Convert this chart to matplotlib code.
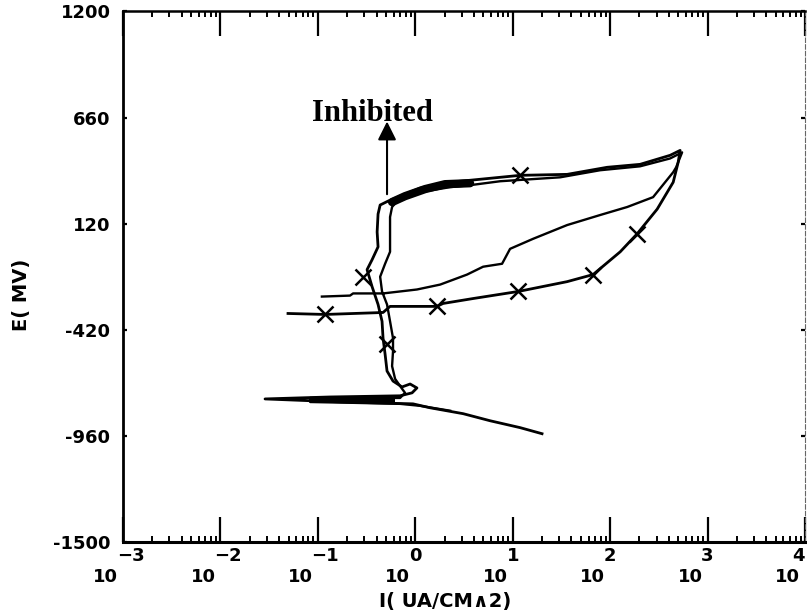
import matplotlib
matplotlib.use("Agg")
import matplotlib.pyplot as plt
from matplotlib.ticker import LogLocator, NullFormatter, FixedLocator

# ---------------- data (I in uA/cm^2, E in mV) ----------------
run1_I = [20.0, 11.9, 5.86, 3.10, 1.42, 0.948, 0.169, 0.0287, 0.133, 0.698,
          0.927, 1.04, 0.885, 0.731, 0.591, 0.513, 0.490, 0.467, 0.456, 0.415,
          0.360, 0.320, 0.360, 0.415, 0.406, 0.415, 0.436, 0.526, 0.698, 1.12,
          2.28, 5.86, 11.9, 36.2, 93.2, 203, 413, 523,
          499, 444, 304, 189, 127, 66.8, 36.2, 11.4, 3.92, 1.93, 1.67, 0.551,
          0.467, 0.119, 0.0494]
run1_E = [-949, -918, -883, -847, -817, -797, -787, -772, -762, -756,
          -741, -716, -696, -711, -681, -630, -544, -463, -377, -291,
          -200, -114, -64, 2, 78, 169, 215, 235, 260, 301,
          331, 351, 366, 371, 407, 422, 468, 493,
          432, 331, 194, 68, -23, -139, -175, -225, -261, -286, -301, -301,
          -332, -342, -337]

run2_I = [2.28, 1.12, 0.698, 0.0832, 0.0832, 0.698, 0.785, 0.698, 0.621, 0.578,
          0.591, 0.591, 0.551, 0.513, 0.456, 0.436, 0.490, 0.551, 0.551, 0.551,
          0.578, 0.665, 1.12, 2.28, 3.65, 7.43, 30.7, 78.9, 203, 413, 548,
          476, 444, 276, 150, 78.9, 36.2, 16.2, 9.40, 7.78, 4.97, 3.40, 1.80,
          1.04, 0.467, 0.230, 0.214, 0.110]
run2_E = [-832, -807, -797, -787, -767, -767, -741, -706, -670, -605,
          -529, -463, -377, -291, -225, -150, -84, -23, 53, 154,
          205, 240, 280, 306, 316, 336, 356, 392, 412, 452, 483,
          407, 382, 255, 205, 164, 113, 43, -8, -84, -99, -139, -190,
          -215, -235, -235, -246, -251]

band1_I = [0.578, 0.785, 1.26, 2.02, 3.65]
band1_E = [230, 260, 296, 321, 326]
band2_I = [0.0832, 0.621]
band2_E = [-777, -777]

marker_I = [0.119, 1.67, 11.4, 66.8, 189, 11.9, 0.291, 0.513]
marker_E = [-342, -301, -225, -139, 68, 366, -150, -493]

y_ticks = [1200, 660, 120, -420, -960, -1500]
x_decades = [-3, -2, -1, 0, 1, 2, 3, 4]

# ---------------- figure ----------------
fig = plt.figure(figsize=(8.07, 6.14), dpi=100)
ax = fig.add_axes([0.1524, 0.1173, 0.8451, 0.8640])

ax.plot(run1_I, run1_E, color="black", lw=2.0, solid_joinstyle="round")
ax.plot(run2_I, run2_E, color="black", lw=1.7, solid_joinstyle="round")
ax.plot(band1_I, band1_E, color="black", lw=6, solid_capstyle="round")
ax.plot(band2_I, band2_E, color="black", lw=4.5, solid_capstyle="butt")
ax.plot(marker_I, marker_E, ls="none", marker="x", ms=11, mew=1.8, color="black")

ax.set_xscale("log")
ax.set_xlim(10.0 ** x_decades[0], 10.0 ** x_decades[-1])
ax.set_ylim(-1500, 1200)

ax.yaxis.set_major_locator(FixedLocator(y_ticks))
ax.set_yticklabels([str(v) for v in y_ticks])
ax.xaxis.set_major_locator(LogLocator(base=10, numticks=20))
ax.xaxis.set_minor_locator(LogLocator(base=10, subs=range(2, 10), numticks=100))
ax.xaxis.set_major_formatter(NullFormatter())
ax.xaxis.set_minor_formatter(NullFormatter())

ax.tick_params(axis="x", which="major", direction="in", length=18, width=1.6,
               top=True, bottom=True)
ax.tick_params(axis="x", which="minor", direction="in", length=4.5, width=1.4,
               top=True, bottom=True)
ax.tick_params(axis="y", which="major", direction="in", length=3, width=1.6,
               left=True, right=True, pad=9)
for lab in ax.get_yticklabels():
    lab.set_fontfamily("DejaVu Sans")
    lab.set_fontweight("bold")
    lab.set_fontsize(13)

ax.spines["left"].set_linewidth(2.0)
ax.spines["bottom"].set_linewidth(2.2)
ax.spines["top"].set_linewidth(1.8)
ax.spines["right"].set_linewidth(0.8)
ax.spines["right"].set_color("#666666")
ax.spines["right"].set_linestyle((0, (4, 2)))

# x tick labels: "10" with exponent
for d in x_decades:
    ax.annotate("10", xy=(10.0 ** d, 0), xycoords=("data", "axes fraction"),
                xytext=(-3.5, -25), textcoords="offset points",
                ha="right", va="center", fontsize=13, fontweight="bold",
                family="DejaVu Sans", annotation_clip=False)
    exp = ("\u2212" + str(-d)) if d < 0 else str(d)
    dx = -4.5 if d != x_decades[-1] else -9.5
    ax.annotate(exp, xy=(10.0 ** d, 0), xycoords=("data", "axes fraction"),
                xytext=(dx, -10), textcoords="offset points",
                ha="left", va="center", fontsize=13, fontweight="bold",
                family="DejaVu Sans", annotation_clip=False)

fig.text(0.027, 1 - 295 / 614, "E( MV)", rotation=90, ha="center", va="center",
         fontsize=14, fontweight="bold", family="DejaVu Sans")
fig.text(445 / 807, 1 - 601 / 614, "I( UA/CM\u22272)", ha="center", va="center",
         fontsize=14, fontweight="bold", family="DejaVu Sans")

# annotation
ax.annotate("", xy=(0.513, 640), xytext=(0.513, 270),
            arrowprops=dict(arrowstyle="-|>", lw=1.5, color="black",
                            mutation_scale=28, shrinkA=0, shrinkB=0))
ax.text(0.360, 645, "Inhibited", ha="center", va="baseline",
        fontsize=22, fontweight="bold", family="Liberation Serif")

fig.savefig("out.png", dpi=100)
